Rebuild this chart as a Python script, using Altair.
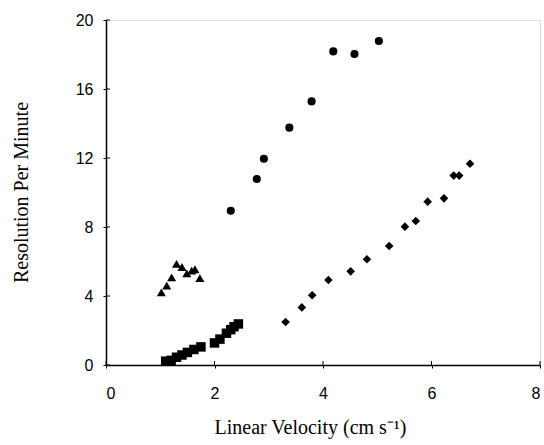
import altair as alt
import pandas as pd

circ_x = [2.30, 2.78, 2.91, 3.38, 3.79, 4.19, 4.58, 5.03]
circ_y = [8.94, 10.78, 11.96, 13.76, 15.28, 18.18, 18.03, 18.78]

diam_x = [3.31, 3.61, 3.80, 4.10, 4.51, 4.81, 5.22, 5.51, 5.71, 5.93, 6.23, 6.41, 6.51, 6.71]
diam_y = [2.49, 3.34, 4.04, 4.93, 5.43, 6.13, 6.90, 8.02, 8.35, 9.47, 9.66, 10.98, 10.98, 11.67]

tri_x = [1.02, 1.12, 1.21, 1.30, 1.40, 1.49, 1.58, 1.64, 1.73]
tri_y = [4.21, 4.60, 5.08, 5.86, 5.68, 5.31, 5.47, 5.55, 5.04]

sq_x = [1.10, 1.20, 1.30, 1.40, 1.50, 1.62, 1.75, 2.00, 2.10, 2.22, 2.30, 2.36, 2.44]
sq_y = [0.22, 0.27, 0.45, 0.58, 0.73, 0.90, 1.05, 1.28, 1.50, 1.84, 2.05, 2.22, 2.38]

x_ticks = [0, 2, 4, 6, 8]
y_ticks = [0, 4, 8, 12, 16, 20]

df = pd.concat([
    pd.DataFrame({"x": circ_x, "y": circ_y, "s": "circle"}),
    pd.DataFrame({"x": diam_x, "y": diam_y, "s": "diamond"}),
    pd.DataFrame({"x": tri_x, "y": tri_y, "s": "triangle-up"}),
    pd.DataFrame({"x": sq_x, "y": sq_y, "s": "square"}),
])

xs = alt.Scale(domain=[0, 8], nice=False, zero=False)
ys = alt.Scale(domain=[0, 20], nice=False, zero=False)

xaxis = alt.Axis(values=x_ticks, title="Linear Velocity (cm s\u207b\u00b9)", grid=False,
                 tickSize=3, tickColor="black", domainColor="black", domainWidth=1.5,
                 labelPadding=17, labelFont="Liberation Sans", labelFontSize=16,
                 labelColor="black", titleFont="Liberation Serif", titleFontSize=20,
                 titleFontWeight="normal", titleColor="black",
                 titleX=204, titleY=68, titleBaseline="alphabetic", titleAlign="center")
yaxis = alt.Axis(values=y_ticks, title="Resolution Per Minute", grid=False,
                 tickSize=3, tickColor="black", domainColor="black", domainWidth=1.5,
                 labelPadding=10, labelFont="Liberation Sans", labelFontSize=16,
                 labelColor="black", titleFont="Liberation Serif", titleFontSize=20,
                 titleFontWeight="normal", titleColor="black",
                 titleX=-79, titleY=172, titleBaseline="alphabetic", titleAlign="center",
                 titleAngle=270)

pts = alt.Chart(df).mark_point(filled=True, color="black", opacity=1).encode(
    x=alt.X("x:Q", scale=xs, axis=xaxis),
    y=alt.Y("y:Q", scale=ys, axis=yaxis),
    shape=alt.Shape("s:N", scale=alt.Scale(domain=["circle", "diamond", "triangle-up", "square"],
                                          range=["circle", "diamond", "triangle-up", "square"]),
                    legend=None),
    size=alt.Size("s:N", scale=alt.Scale(domain=["circle", "diamond", "triangle-up", "square"],
                                        range=[66, 90, 62, 52]), legend=None),
)

xt = alt.Chart(pd.DataFrame({"v": x_ticks})).mark_rule(color="black", strokeWidth=1).encode(
    x=alt.X("v:Q", scale=xs), y=alt.value(345), y2=alt.value(341))
yt = alt.Chart(pd.DataFrame({"v": y_ticks})).mark_rule(color="black", strokeWidth=1).encode(
    y=alt.Y("v:Q", scale=ys), x=alt.value(0), x2=alt.value(4))

chart = alt.layer(pts, xt, yt).properties(
    width=434, height=345,
    autosize=alt.AutoSizeParams(type="none"),
    padding={"left": 106, "top": 20, "right": 4, "bottom": 80},
).configure_view(stroke="#444", strokeWidth=1).configure(background="white")

chart.save("out.html", embed_options={"renderer": "svg", "actions": False})
